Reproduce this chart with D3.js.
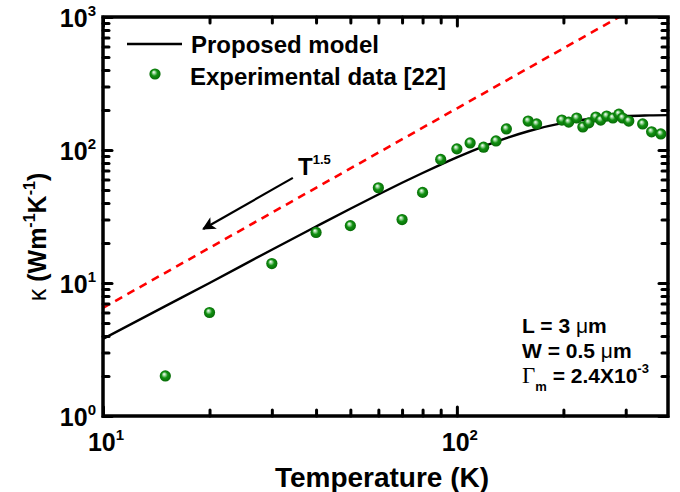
<!DOCTYPE html>
<html>
<head>
<meta charset="utf-8">
<script src="https://cdn.jsdelivr.net/npm/d3@7"></script>
<style>
  body { margin: 0; background: #fff; }
  text { font-family: 'Liberation Sans', Arial, sans-serif; font-weight: bold; }
</style>
</head>
<body>
<svg width="680" height="492"></svg>
<script>
// experimental data [22]
const expT = [15, 20, 30, 40, 50, 60, 70, 80, 90, 100, 109, 119, 129, 138, 159, 168, 198, 207, 218, 227, 236, 247, 255, 265, 276, 287, 294, 306, 335, 355, 377];
const expK = [2, 6, 14, 24, 27, 52, 30, 48, 85, 102, 113, 105, 117, 144, 165, 157, 168, 162, 174, 149, 160, 177, 168, 180, 174, 186, 174, 165, 157, 137, 132];

// proposed model
const modelT = [10, 15, 20, 30, 40, 50, 60, 70, 80, 90, 100, 120, 140, 160, 200, 250, 300, 350, 395];
const modelK = [3.8, 6.7, 10, 17.8, 26.6, 36.2, 46.3, 56.7, 67.2, 77.7, 88, 107.5, 124.5, 139, 160, 174, 180, 182, 183];

// T^1.5 guide line
const guideT = [10, 292];
const guideK = [6.5, 1025];

const xMajor = [10, 100];
const xMinor = [20, 30, 40, 50, 60, 70, 80, 90, 200, 300];
const yMajor = [1, 10, 100, 1000];
const yMinor = [2, 3, 4, 5, 6, 7, 8, 9, 20, 30, 40, 50, 60, 70, 80, 90, 200, 300, 400, 500, 600, 700, 800, 900];

const svg = d3.select('svg');
const pL = 103, pR = 668, pT = 17, pB = 416;

const x = d3.scaleLog().domain([10, 395]).range([pL, pR]);
const y = d3.scaleLog().domain([1, 1000]).range([pB, pT]);

const defs = svg.append('defs');
defs.append('clipPath').attr('id', 'plot')
    .append('rect')
    .attr('x', pL).attr('y', pT)
    .attr('width', pR - pL).attr('height', pB - pT);

const grad = defs.append('radialGradient')
    .attr('id', 'ball')
    .attr('cx', '50%').attr('cy', '50%').attr('r', '55%')
    .attr('fx', '38%').attr('fy', '32%');
grad.append('stop').attr('offset', '0%').attr('stop-color', '#ffffff');
grad.append('stop').attr('offset', '22%').attr('stop-color', '#9fd89f');
grad.append('stop').attr('offset', '50%').attr('stop-color', '#119111');
grad.append('stop').attr('offset', '100%').attr('stop-color', '#056405');

defs.append('marker')
    .attr('id', 'head')
    .attr('viewBox', '0 0 10 10')
    .attr('refX', 9).attr('refY', 5)
    .attr('markerWidth', 7).attr('markerHeight', 6)
    .attr('markerUnits', 'strokeWidth')
    .attr('orient', 'auto')
    .append('path')
    .attr('d', 'M0,0 L10,5 L0,10 L2.5,5 Z')
    .attr('fill', '#000');

// tick labels
function powLabel(g, exp, sz) {
    g.append('tspan').text('10');
    g.append('tspan').text(exp).attr('dy', -11).attr('font-size', sz);
}
yMajor.forEach(v => {
    const t = svg.append('text')
        .attr('x', 96).attr('y', y(v) + 10)
        .attr('text-anchor', 'end')
        .attr('font-size', 25);
    powLabel(t, Math.round(Math.log10(v)), 15);
});
xMajor.forEach(v => {
    const t = svg.append('text')
        .attr('x', x(v) + 3).attr('y', 451)
        .attr('text-anchor', 'middle')
        .attr('font-size', 25);
    powLabel(t, Math.round(Math.log10(v)), 15);
});

// axis titles
svg.append('text')
    .attr('x', 382).attr('y', 487)
    .attr('text-anchor', 'middle')
    .attr('font-size', 28)
    .text('Temperature (K)');

const yl = svg.append('text')
    .attr('transform', 'translate(46,237) rotate(-90)')
    .attr('text-anchor', 'middle')
    .attr('font-size', 25);
yl.append('tspan').text('\u03BA').attr('font-weight', 'normal');
yl.append('tspan').text(' (Wm');
yl.append('tspan').text('-1').attr('dy', -11).attr('font-size', 16);
yl.append('tspan').text('K').attr('dy', 11);
yl.append('tspan').text('-1').attr('dy', -11).attr('font-size', 16);
yl.append('tspan').text(')').attr('dy', 11);

// plot content
const plot = svg.append('g').attr('clip-path', 'url(#plot)');
const path = d3.line().x(d => x(d[0])).y(d => y(d[1]));

plot.append('path')
    .datum(d3.zip(guideT, guideK))
    .attr('d', path)
    .attr('fill', 'none')
    .attr('stroke', '#ff0000')
    .attr('stroke-width', 2.6)
    .attr('stroke-dasharray', '8,6');

plot.append('path')
    .datum(d3.zip(modelT, modelK))
    .attr('d', path.curve(d3.curveMonotoneX))
    .attr('fill', 'none')
    .attr('stroke', '#000')
    .attr('stroke-width', 2.4);

svg.append('g')
    .selectAll('circle')
    .data(d3.zip(expT, expK))
    .join('circle')
    .attr('cx', d => x(d[0]))
    .attr('cy', d => y(d[1]))
    .attr('r', 5.6)
    .attr('fill', 'url(#ball)');

// T^1.5 arrow
svg.append('line')
    .attr('x1', x(34.4)).attr('y1', y(61.7))
    .attr('x2', x(19.2)).attr('y2', y(25.5))
    .attr('stroke', '#000')
    .attr('stroke-width', 2.2)
    .attr('marker-end', 'url(#head)');
const tl = svg.append('text').attr('x', 298).attr('y', 175).attr('font-size', 24);
tl.append('tspan').text('T');
tl.append('tspan').text('1.5').attr('dy', -11).attr('font-size', 13);

// legend
svg.append('line')
    .attr('x1', 127).attr('x2', 182)
    .attr('y1', 44).attr('y2', 44)
    .attr('stroke', '#000').attr('stroke-width', 2.4);
svg.append('text').attr('x', 191).attr('y', 53).attr('font-size', 24).text('Proposed model');
svg.append('circle').attr('cx', 155).attr('cy', 74).attr('r', 5.6).attr('fill', 'url(#ball)');
svg.append('text').attr('x', 190).attr('y', 85).attr('font-size', 24).text('Experimental data [22]');

// parameters
const p1 = svg.append('text').attr('x', 522).attr('y', 333).attr('font-size', 21);
p1.append('tspan').text('L = 3 ');
p1.append('tspan').text('\u03BC').attr('font-weight', 'normal');
p1.append('tspan').text('m');
const p2 = svg.append('text').attr('x', 522).attr('y', 358).attr('font-size', 21);
p2.append('tspan').text('W = 0.5 ');
p2.append('tspan').text('\u03BC').attr('font-weight', 'normal');
p2.append('tspan').text('m');
const p3 = svg.append('text').attr('x', 522).attr('y', 383).attr('font-size', 21);
p3.append('tspan').text('\u0393').attr('font-weight', 'normal').attr('font-family', 'Liberation Serif, serif').attr('font-size', 23);
p3.append('tspan').text('m').attr('dy', 8).attr('font-size', 13);
p3.append('tspan').text(' = 2.4X10').attr('dy', -8);
p3.append('tspan').text('-3').attr('dy', -10).attr('font-size', 13);

// frame
svg.append('rect')
    .attr('x', pL).attr('y', pT)
    .attr('width', pR - pL).attr('height', pB - pT)
    .attr('fill', 'none')
    .attr('stroke', '#000')
    .attr('stroke-width', 3.5);

// ticks, inward on all four sides, drawn last so nothing covers them
const tickStyle = g => {
    g.select('.domain').remove();
    g.selectAll('.tick line')
        .attr('stroke', '#000')
        .attr('stroke-width', 3)
        .attr('stroke-linecap', 'round');
};
const sides = [
    [d3.axisTop, x, `translate(0,${pB})`, xMajor, xMinor],
    [d3.axisBottom, x, `translate(0,${pT})`, xMajor, xMinor],
    [d3.axisRight, y, `translate(${pL},0)`, yMajor, yMinor],
    [d3.axisLeft, y, `translate(${pR},0)`, yMajor, yMinor]
];
sides.forEach(([mk, sc, tr, major, minor]) => {
    svg.append('g').attr('transform', tr)
        .call(mk(sc).tickValues(major).tickSize(9).tickFormat(() => ''))
        .call(tickStyle);
    svg.append('g').attr('transform', tr)
        .call(mk(sc).tickValues(minor).tickSize(6).tickFormat(() => ''))
        .call(tickStyle);
});
</script>
</body>
</html>
